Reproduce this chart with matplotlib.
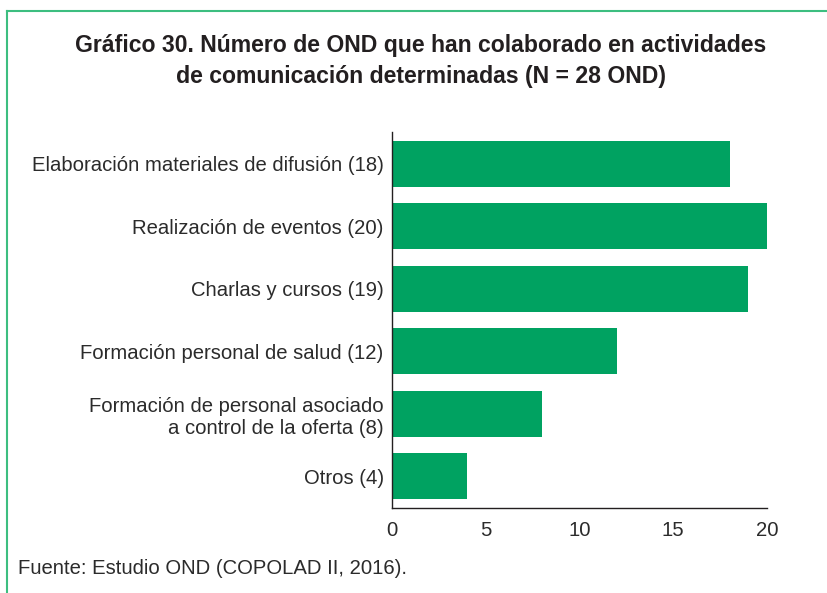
import matplotlib.pyplot as plt
from matplotlib.lines import Line2D

categorias = [
    "Elaboración materiales de difusión (18)",
    "Realización de eventos (20)",
    "Charlas y cursos (19)",
    "Formación personal de salud (12)",
    "Formación de personal asociado\na control de la oferta (8)",
    "Otros (4)",
]
valores = [18, 20, 19, 12, 8, 4]
ticks_x = [0, 5, 10, 15, 20]

verde = "#00A261"
borde = "#3DBE80"
texto = "#2B2B2B"

plt.rcParams["font.family"] = ["Liberation Sans", "DejaVu Sans"]

fig = plt.figure(figsize=(8.27, 5.93), dpi=100)
ax = fig.add_axes([392 / 827, 1 - 508 / 593, 375 / 827, 376 / 593])

# de abajo hacia arriba
pos = list(range(len(categorias)))[::-1]
ax.barh(pos, valores, height=0.74, color=verde, zorder=2)

ax.set_xlim(0, 20)
ax.set_ylim(-0.51, 5.51)
ax.set_yticks(pos)
ax.set_yticklabels(categorias, fontsize=14.6, color=texto, linespacing=1.25)
ax.set_xticks(ticks_x)
ax.set_xticklabels([str(t) for t in ticks_x], fontsize=14.6, color=texto)
ax.tick_params(axis="both", length=0, pad=6)
ax.tick_params(axis="x", pad=9)
for lab in ax.get_yticklabels():
    lab.set_horizontalalignment("right")
    lab.set_multialignment("right")
for s in ["top", "right"]:
    ax.spines[s].set_visible(False)
for s in ["left", "bottom"]:
    ax.spines[s].set_color("#231F20")
    ax.spines[s].set_linewidth(1.0)

titulo = ("Gráfico 30. Número de OND que han colaborado en actividades\n"
          "de comunicación determinadas (N = 28 OND)")
fig.text(421 / 827, 1 - 61 / 593, titulo, ha="center", va="center",
         fontsize=16.6, fontweight="bold", color="#231F20", linespacing=1.45)

fig.text(18 / 827, 1 - 569 / 593, "Fuente: Estudio OND (COPOLAD II, 2016).",
         ha="left", va="center", fontsize=14.6, color=texto)

# marco verde (arriba e izquierda)
fig.add_artist(Line2D([7 / 827, 1], [1 - 11 / 593, 1 - 11 / 593],
                      transform=fig.transFigure, color=borde, lw=1.5))
fig.add_artist(Line2D([7 / 827, 7 / 827], [0, 1 - 11 / 593],
                      transform=fig.transFigure, color=borde, lw=1.5))

fig.savefig("out.png", dpi=100)
